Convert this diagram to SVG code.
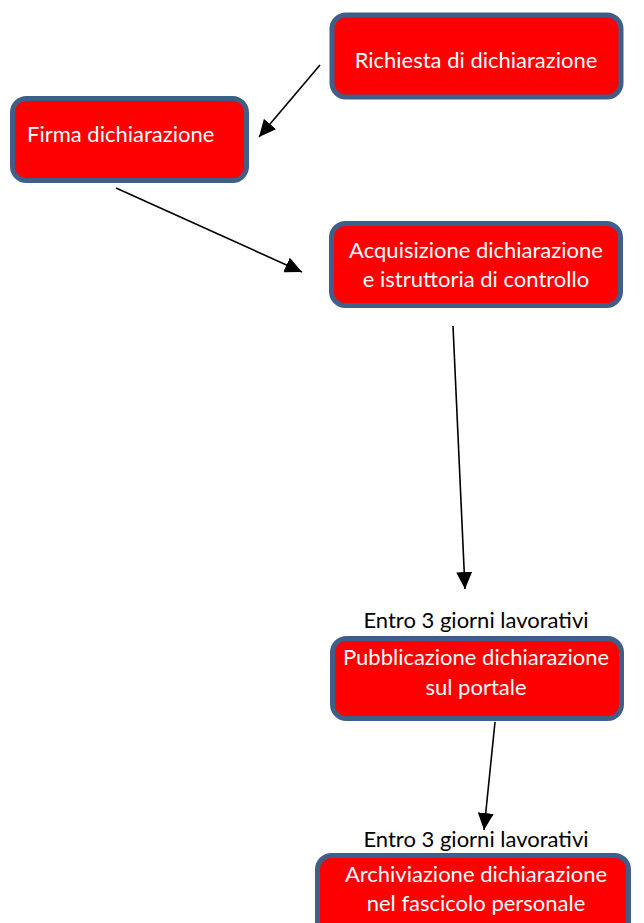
<svg xmlns="http://www.w3.org/2000/svg" width="644" height="923" viewBox="0 0 644 923">
<style>
.box{fill:#ff0000;stroke:#3f5f8a;stroke-width:5}
.t{font-family:Lato,"Open Sans","Liberation Sans",sans-serif;font-size:22px;fill:#ffffff;text-anchor:middle}
.lbl{font-family:Lato,"Open Sans","Liberation Sans",sans-serif;font-size:22px;fill:#000000;text-anchor:middle}
.c{stroke:#000;stroke-width:1.6;fill:none;marker-end:url(#ah)}
</style>
<defs>
<marker id="ah" markerUnits="userSpaceOnUse" markerWidth="18" markerHeight="16" viewBox="0 0 18 16" refX="17" refY="8" orient="auto">
<path d="M0,0 L17,8 L0,16 Z" fill="#000"/>
</marker>
</defs>
<rect width="644" height="923" fill="#ffffff"/>
<g id="n1">
<rect class="box" x="332" y="15" width="289" height="82" rx="14"/>
<text class="t" x="476" y="68">Richiesta di dichiarazione</text>
</g>
<g id="n2">
<rect class="box" x="12.5" y="98.5" width="234" height="82" rx="14"/>
<text class="t" x="27" y="142" style="text-anchor:start">Firma dichiarazione</text>
</g>
<g id="n3">
<rect class="box" x="331.5" y="223.5" width="289" height="82" rx="14"/>
<text class="t" x="476" y="258">Acquisizione dichiarazione</text>
<text class="t" x="476" y="287">e istruttoria di controllo</text>
</g>
<g id="n4">
<text class="lbl" x="476" y="628">Entro 3 giorni lavorativi</text>
<rect class="box" x="332.5" y="638.5" width="289" height="80" rx="14"/>
<text class="t" x="476" y="665">Pubblicazione dichiarazione</text>
<text class="t" x="476" y="695">sul portale</text>
</g>
<g id="n5">
<text class="lbl" x="476" y="847">Entro 3 giorni lavorativi</text>
<rect class="box" x="317.5" y="855.5" width="311" height="82" rx="14"/>
<text class="t" x="476" y="882">Archiviazione dichiarazione</text>
<text class="t" x="476" y="911">nel fascicolo personale</text>
</g>
<g id="connectors">
<line class="c" x1="320" y1="65" x2="259" y2="137"/>
<line class="c" x1="116" y1="188" x2="302" y2="272"/>
<line class="c" x1="453" y1="326" x2="465" y2="589"/>
<line class="c" x1="495" y1="722" x2="484" y2="830"/>
</g>
</svg>
